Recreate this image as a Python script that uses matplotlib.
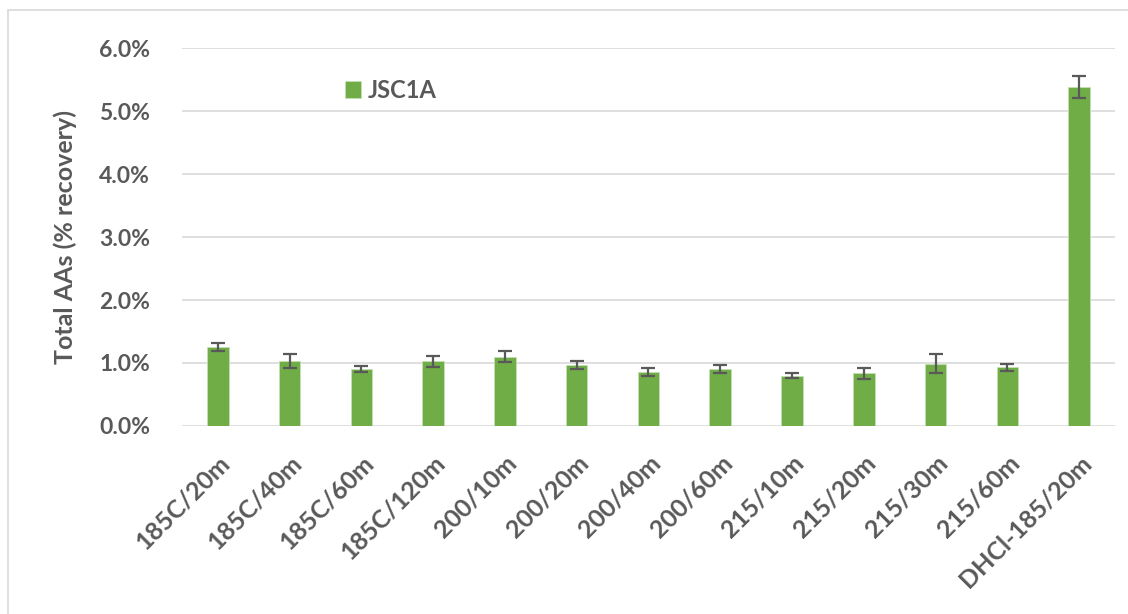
import matplotlib.pyplot as plt
from matplotlib.patches import Rectangle
from matplotlib.ticker import PercentFormatter

# Total amino acid recovery per extraction condition
conditions = ["185C/20m", "185C/40m", "185C/60m", "185C/120m", "200/10m", "200/20m",
              "200/40m", "200/60m", "215/10m", "215/20m", "215/30m", "215/60m", "DHCl-185/20m"]
recovery = [1.25, 1.03, 0.91, 1.03, 1.10, 0.97, 0.86, 0.90, 0.80, 0.84, 0.99, 0.93, 5.38]
recovery_err = [0.064, 0.107, 0.048, 0.088, 0.088, 0.067, 0.059, 0.061, 0.045, 0.088, 0.146, 0.061, 0.17]
series_name = "JSC1A"

text_color = "#595959"
plt.rcParams["font.family"] = ["Lato", "DejaVu Sans"]
plt.rcParams["font.weight"] = "bold"
plt.rcParams["axes.labelweight"] = "bold"

fig = plt.figure(figsize=(11.28, 6.14), dpi=100)
fig.patches.append(Rectangle((8 / 1128, -0.01), 1.02, 1 - 10 / 614 + 0.01,
                             transform=fig.transFigure, fill=False,
                             edgecolor="#d9d9d9", linewidth=1.2))

ax = fig.add_axes([0.1613, 0.3062, 0.8272, 0.6156])
x = range(len(conditions))
ax.bar(x, [v / 100 for v in recovery], width=0.3, color="#70AD47",
       edgecolor="#c5e0b4", linewidth=0.6, label=series_name, zorder=3,
       yerr=[e / 100 for e in recovery_err],
       error_kw=dict(ecolor=text_color, elinewidth=1.6, capsize=5, capthick=1.6))

ax.set_xlim(-0.5, len(conditions) - 0.5)
ax.set_ylim(0, 0.06)
ax.set_yticks([i / 100 for i in range(7)])
ax.yaxis.set_major_formatter(PercentFormatter(1.0, decimals=1))
ax.grid(axis="y", color="#d9d9d9", linewidth=1.2, zorder=0)
for side in ax.spines.values():
    side.set_visible(False)
ax.tick_params(length=0, labelcolor=text_color)
ax.tick_params(axis="y", labelsize=16.5, pad=23)
ax.tick_params(axis="x", labelsize=18, pad=18)
ax.set_xticks(list(x))
ax.set_xticklabels(conditions, rotation=45, ha="right", rotation_mode="anchor")
ax.set_ylabel("Total AAs (% recovery)", fontsize=18, color=text_color, labelpad=16)

ax.legend(loc="upper left", bbox_to_anchor=(0.152, 0.975), frameon=False,
          fontsize=17, labelcolor=text_color, handlelength=0.68, handleheight=0.68,
          handletextpad=0.3)

fig.savefig("out.png", dpi=100)
